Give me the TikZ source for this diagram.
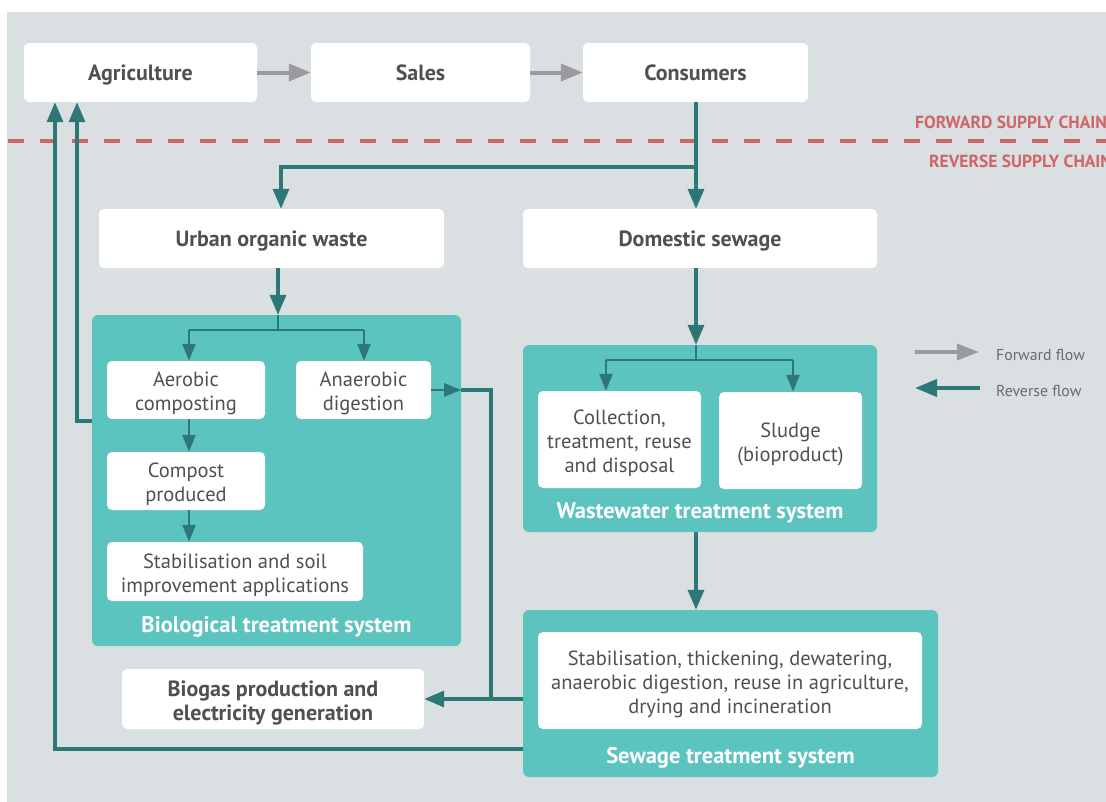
\documentclass[tikz,border=0pt]{standalone}
\usepackage{fontspec}
\setmainfont{PT Sans}
\usetikzlibrary{arrows.meta}
\definecolor{bggray}{HTML}{DAE0E2}
\definecolor{tealbox}{HTML}{5CC4BF}
\definecolor{tealdark}{HTML}{2E7777}
\definecolor{arrgray}{HTML}{9B9B9F}
\definecolor{chainred}{HTML}{CF6568}
\definecolor{txt}{HTML}{505050}
\begin{document}
\begin{tikzpicture}[x=1pt,y=-1pt,
  wbox/.style={fill=white, rounded corners=5pt, inner sep=0pt, align=center, text=txt},
  bl/.style={font=\fontsize{22}{24}\selectfont\bfseries},
  one/.style={text height=15.5pt, text depth=0pt},
  rg/.style={font=\fontsize{20.5}{24}\selectfont},
  mrg/.style={inner sep=0pt, align=center, text=txt, font=\fontsize{20.5}{24}\selectfont, yshift=-3.5pt},
  mbl/.style={inner sep=0pt, align=center, text=txt, font=\fontsize{22}{24}\selectfont\bfseries, yshift=-4pt},
  sysbox/.style={fill=tealbox, rounded corners=6pt, inner sep=0pt},
  syslabel/.style={text=white, font=\fontsize{22.5}{24}\selectfont\bfseries, inner sep=0pt, text height=15.5pt, text depth=0pt},
  fwd/.style={draw=arrgray, line width=4pt, -{Triangle[length=22pt,width=17pt]}},
  rev/.style={draw=tealdark, line width=3.5pt, -{Triangle[length=20pt,width=16pt]}},
  revline/.style={draw=tealdark, line width=3.5pt},
  revs/.style={draw=tealdark, line width=2.8pt, -{Triangle[length=17pt,width=13pt]}},
  revsline/.style={draw=tealdark, line width=2.8pt},
  chain/.style={text=chainred, font=\fontsize{17.5}{18}\selectfont\bfseries, anchor=west, inner sep=0pt, text height=12.5pt, text depth=0pt},
  legend/.style={text=txt!85, font=\fontsize{15.8}{16}\selectfont, anchor=west, inner sep=0pt, text height=11pt, text depth=0pt}
]
\useasboundingbox (0,0) rectangle (1106,801);
\clip (0,0) rectangle (1106,801);
\fill[bggray] (7,12) rectangle (1110,805);

% forward chain
\node[wbox, bl, one, minimum width=233pt, minimum height=59pt] (agri) at (140.5,72.5) {Agriculture};
\node[wbox, bl, one, minimum width=219pt, minimum height=59pt] (sales) at (420.5,72.5) {Sales};
\node[wbox, bl, one, minimum width=225pt, minimum height=59pt] (cons) at (695.5,72.5) {Consumers};
\draw[fwd] (agri.east) -- (sales.west);
\draw[fwd] (sales.east) -- (cons.west);

% supply chain separator
\draw[chainred, line width=3.5pt, dash pattern=on 16pt off 16pt] (8,141) -- (1110,141);
\node[chain] (fsc) at (915,122) {FORWARD SUPPLY CHAIN};
\node[chain] (rsc) at (929,161) {REVERSE SUPPLY CHAIN};

% reverse chain top level
\node[wbox, bl, one, minimum width=345pt, minimum height=59pt] (urban) at (271.5,238.5) {Urban organic waste};
\node[wbox, bl, one, minimum width=354pt, minimum height=59pt] (dom) at (700,238.5) {Domestic sewage};

\coordinate (j1) at (696,167);
\draw[rev] ([xshift=0.5pt]cons.south) -- ([xshift=0.5pt]cons.south |- dom.north);
\draw[rev] (j1) -| ([xshift=9.5pt]urban.north);

% biological treatment system
\node[sysbox, minimum width=369pt, minimum height=331pt] (bio) at (276.5,480.5) {};
\node[syslabel] (biolab) at (276.5,625) {Biological treatment system};
\node[wbox, minimum width=158pt, minimum height=58pt, label={[mrg]center:{Aerobic\\composting}}] (aer) at (186,390) {};
\node[wbox, minimum width=135pt, minimum height=58pt, label={[mrg]center:{Anaerobic\\digestion}}] (anaer) at (363.5,390) {};
\node[wbox, minimum width=158pt, minimum height=58pt, label={[mrg]center:{Compost\\produced}}] (comp) at (186,481) {};
\node[wbox, minimum width=256pt, minimum height=59pt, label={[mrg]center:{Stabilisation and soil\\improvement applications}}] (stab) at (235,571.5) {};

\draw[rev] ([xshift=6.5pt]urban.south) -- ([xshift=6.5pt]urban.south |- bio.north);
\coordinate (j2) at (278,330);
\coordinate (j2l) at (189,330);
\coordinate (j2r) at (364,330);
\draw[revsline] ([xshift=6.5pt]urban.south |- bio.north) -- (j2);
\draw[revsline] (j2l) -- (j2r);
\draw[revs] (j2l) -- (j2l |- aer.north);
\draw[revs] (j2r) -- (j2r |- anaer.north);
\draw[revs] ([xshift=3pt]aer.south) -- ([xshift=3pt]aer.south |- comp.north);
\draw[revs] ([xshift=3pt]comp.south) -- ([xshift=3pt]comp.south |- stab.north);

% wastewater treatment system
\node[sysbox, minimum width=354pt, minimum height=187pt] (ww) at (700,438.5) {};
\node[syslabel] (wwlab) at (700,511) {Wastewater treatment system};
\node[wbox, minimum width=163pt, minimum height=97pt, label={[mrg]center:{Collection,\\treatment, reuse\\and disposal}}] (coll) at (619.5,439.5) {};
\node[wbox, minimum width=143pt, minimum height=97pt, label={[mrg]center:{Sludge\\(bioproduct)}}] (sludge) at (790.5,440.5) {};

\draw[rev] (dom.south -| j1) -- (ww.north -| j1);
\coordinate (j3) at (696,360);
\coordinate (j3l) at (606,360);
\coordinate (j3r) at (793,360);
\draw[revsline] (ww.north -| j1) -- (j3);
\draw[revsline] (j3l) -- (j3r);
\draw[revs] (j3l) -- (j3l |- coll.north);
\draw[revs] (j3r) -- (j3r |- sludge.north);

% sewage treatment system
\node[sysbox, minimum width=415pt, minimum height=167pt] (sew) at (730.5,693.5) {};
\node[syslabel] (sewlab) at (730.5,756) {Sewage treatment system};
\node[wbox, minimum width=384pt, minimum height=97pt, label={[mrg]center:{Stabilisation, thickening, dewatering,\\anaerobic digestion, reuse in agriculture,\\drying and incineration}}] (sewin) at (730,680.5) {};
\draw[rev] (ww.south -| j1) -- (sew.north -| j1);

% biogas
\node[wbox, minimum width=302pt, minimum height=60pt, label={[mbl]center:{Biogas production and\\electricity generation}}] (biogas) at (273,699) {};

\coordinate (k1) at (491,390);
\coordinate (k2) at (491,699);
\draw[revs] (anaer.east) -- (anaer.east -| bio.east);
\draw[revline] (anaer.east -| bio.east) -- (k1) -- (k2);
\draw[rev] (sew.west |- biogas.east) -- (biogas.east);

% return loops to agriculture
\coordinate (l1) at (77,421);
\coordinate (l2) at (55,749);
\draw[rev] (bio.west |- l1) -- (l1) -- (l1 |- agri.south);
\draw[rev] (sew.west |- l2) -- (l2) -- (l2 |- agri.south);

% legend
\coordinate (lf1) at (915,352);
\coordinate (lf2) at (979,352);
\coordinate (lr1) at (980,388);
\coordinate (lr2) at (915,388);
\draw[fwd, line width=3.5pt, -{Triangle[length=22pt,width=16pt]}] (lf1) -- (lf2);
\draw[rev, line width=4pt, -{Triangle[length=22pt,width=17pt]}] (lr1) -- (lr2);
\node[legend] (lfwd) at (996,355) {Forward flow};
\node[legend] (lrev) at (996,391) {Reverse flow};
\end{tikzpicture}
\end{document}
